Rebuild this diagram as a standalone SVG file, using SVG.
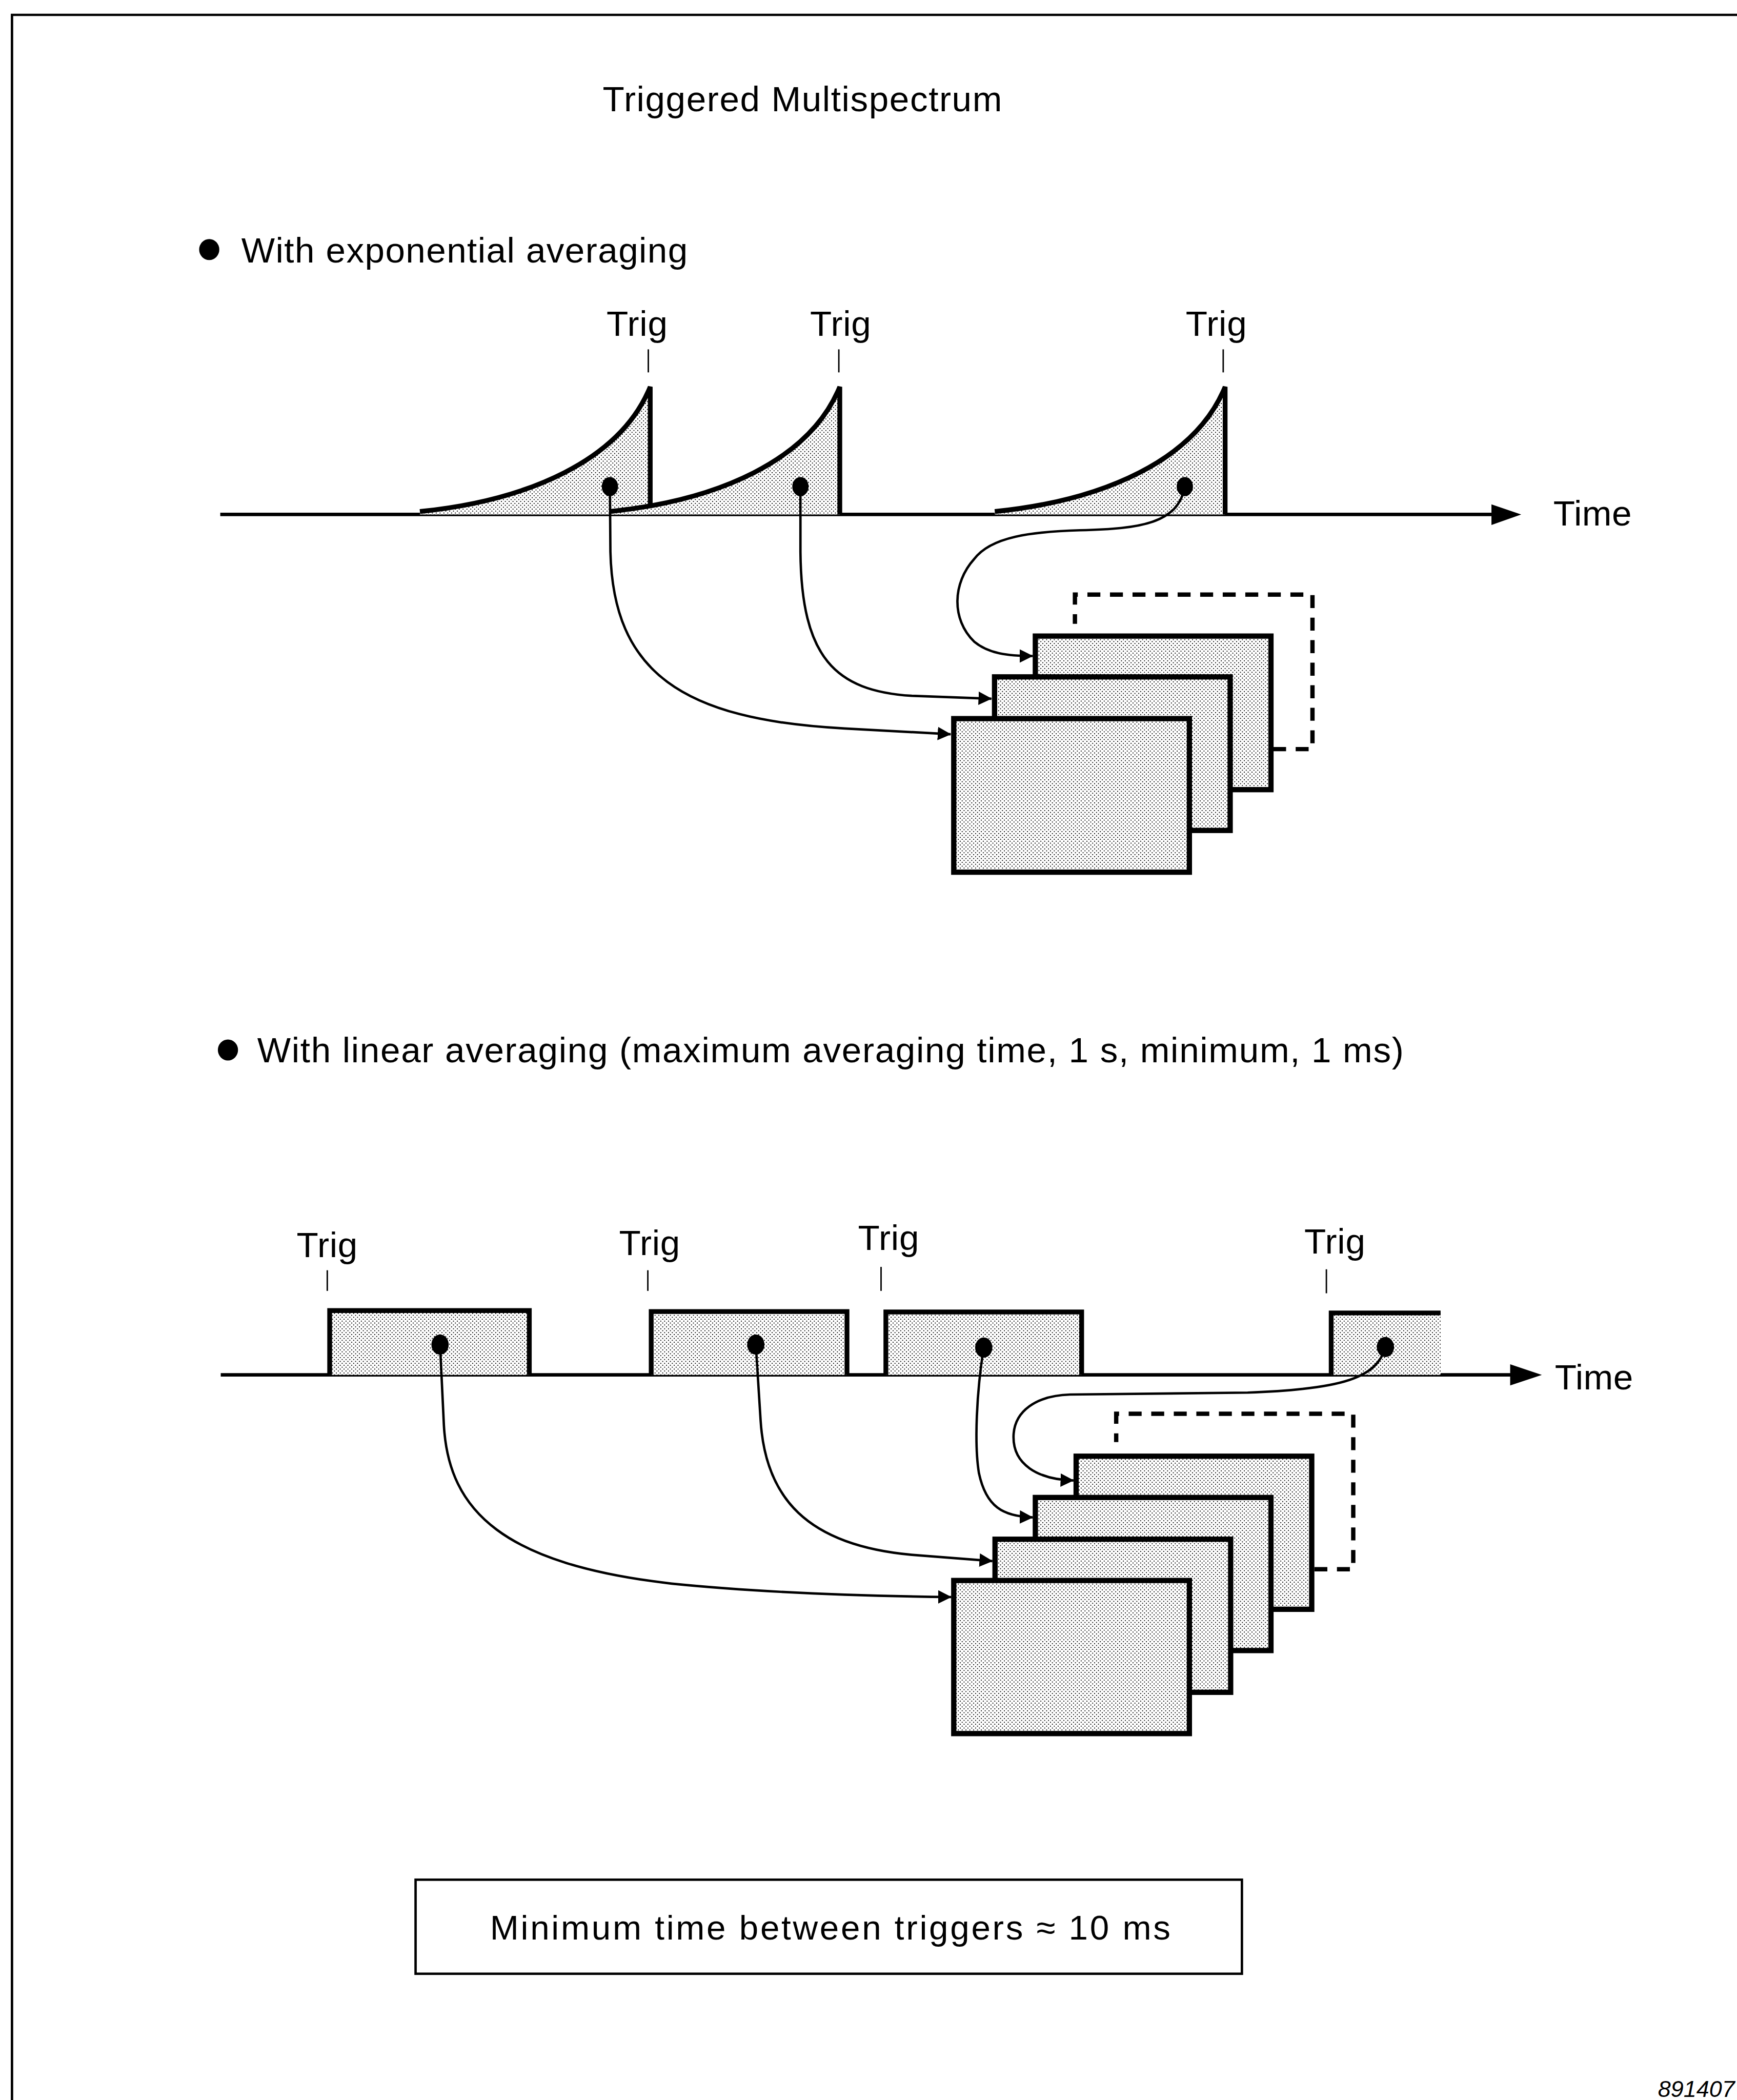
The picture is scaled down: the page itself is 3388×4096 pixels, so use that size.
<svg xmlns="http://www.w3.org/2000/svg" width="3388" height="4096" viewBox="0 0 3388 4096">
<defs>
<pattern id="stipple" width="8" height="8" patternUnits="userSpaceOnUse">
<rect width="8" height="8" fill="#fff"/>
<rect x="0" y="0" width="2" height="2" fill="#000"/>
<rect x="4" y="4" width="2" height="2" fill="#000"/>
</pattern>
<marker id="arr" markerUnits="userSpaceOnUse" markerWidth="28" markerHeight="28" viewBox="0 0 28 28" refX="27" refY="14" orient="auto"><path d="M0 0 L28 14 L0 28 Z" fill="#000"/></marker>
</defs>
<style>
.t{font-family:"Liberation Sans",Arial,sans-serif;font-size:74px;fill:#000}
.ln{fill:none;stroke:#000;stroke-width:5}
.box{fill:url(#stipple);stroke:#000;stroke-width:11}
.dash{fill:none;stroke:#000;stroke-width:9;stroke-dasharray:27 20}
.ax{fill:none;stroke:#000;stroke-width:7}
.tick{stroke:#000;stroke-width:3}
.pulse{fill:none;stroke:#000;stroke-width:10;stroke-linejoin:miter}
.fillp{fill:url(#stipple)}
.dot{fill:#000}
</style>
<rect width="3388" height="4096" fill="#fff"/>
<g transform="scale(0.936)">
<g id="page-border"><path d="M25 4376 V31 H3620" fill="none" stroke="#000" stroke-width="5"/></g>
<g id="title"><text class="t" x="1256" y="232" textLength="832">Triggered Multispectrum</text></g>

<g id="section-exponential">
<g id="bullet-exp"><ellipse class="dot" cx="436" cy="520" rx="21" ry="22"/><text class="t" x="503" y="547" textLength="930">With exponential averaging</text></g>
<g id="time-axis-top"><line class="ax" x1="459" y1="1072" x2="3115" y2="1072"/><path d="M3108 1051 L3170 1072 L3108 1094 Z" fill="#000"/><text class="t" x="3237" y="1095" textLength="163">Time</text></g>
<g id="trig-top-1"><text class="t" x="1264" y="700" textLength="127">Trig</text><line class="tick" x1="1351" y1="728" x2="1351" y2="776"/></g>
<g id="trig-top-2"><text class="t" x="1688" y="700" textLength="127">Trig</text><line class="tick" x1="1748" y1="728" x2="1748" y2="776"/></g>
<g id="trig-top-3"><text class="t" x="2471" y="700" textLength="127">Trig</text><line class="tick" x1="2549" y1="728" x2="2549" y2="776"/></g>
<g id="exp-pulse-1"><path class="fillp" d="M875 1068 C1100 1043, 1292 960, 1355 806 V1072 H875 Z"/><path class="pulse" d="M875 1066 C1100 1043, 1292 960, 1355 806 V1072"/></g>
<g id="exp-pulse-2"><path class="fillp" d="M1270 1068 C1495 1043, 1687 960, 1750 806 V1072 H1270 Z"/><path class="pulse" d="M1270 1066 C1495 1043, 1687 960, 1750 806 V1072"/></g>
<g id="exp-pulse-3"><path class="fillp" d="M2073 1068 C2298 1043, 2490 960, 2553 806 V1072 H2073 Z"/><path class="pulse" d="M2073 1066 C2298 1043, 2490 960, 2553 806 V1072"/></g>
<g id="stack-top">
<path class="dash" d="M2653 1561 H2735 V1239 H2240 V1300"/>
<g id="spec-top-3"><rect class="box" x="2157.5" y="1325.5" width="491" height="320"/></g>
<g id="spec-top-2"><rect class="box" x="2072.5" y="1410.5" width="491" height="320"/></g>
<g id="spec-top-1"><rect class="box" x="1987.5" y="1497.5" width="491" height="320"/></g>
</g>
</g>

<g id="section-linear">
<g id="bullet-lin"><ellipse class="dot" cx="475" cy="2188" rx="21" ry="22"/><text class="t" x="536" y="2214" textLength="2389">With linear averaging (maximum averaging time, 1 s, minimum, 1 ms)</text></g>
<g id="time-axis-bottom"><line class="ax" x1="460" y1="2865" x2="3152" y2="2865"/><path d="M3147 2843 L3213 2865 L3147 2887 Z" fill="#000"/><text class="t" x="3240" y="2895" textLength="163">Time</text></g>
<g id="trig-bot-1"><text class="t" x="618" y="2620" textLength="127">Trig</text><line class="tick" x1="682" y1="2647" x2="682" y2="2690"/></g>
<g id="trig-bot-2"><text class="t" x="1290" y="2615" textLength="127">Trig</text><line class="tick" x1="1350" y1="2647" x2="1350" y2="2690"/></g>
<g id="trig-bot-3"><text class="t" x="1788" y="2605" textLength="127">Trig</text><line class="tick" x1="1836" y1="2640" x2="1836" y2="2690"/></g>
<g id="trig-bot-4"><text class="t" x="2718" y="2612" textLength="127">Trig</text><line class="tick" x1="2764" y1="2645" x2="2764" y2="2695"/></g>
<g id="lin-pulse-1"><rect class="fillp" x="687" y="2730" width="416" height="135"/><path class="pulse" d="M687 2865 V2731 H1103 V2865"/></g>
<g id="lin-pulse-2"><rect class="fillp" x="1357" y="2732" width="408" height="133"/><path class="pulse" d="M1357 2865 V2733 H1765 V2865"/></g>
<g id="lin-pulse-3"><rect class="fillp" x="1846" y="2733" width="408" height="132"/><path class="pulse" d="M1846 2865 V2734 H2254 V2865"/></g>
<g id="lin-pulse-4"><rect class="fillp" x="2774" y="2735" width="228" height="130"/><path class="pulse" d="M2774 2865 V2736 H3002"/></g>
<g id="stack-bottom">
<path class="dash" d="M2739 3270 H2820 V2946 H2326 V3005"/>
<g id="spec-bot-4"><rect class="box" x="2242.5" y="3034.5" width="491" height="319"/></g>
<g id="spec-bot-3"><rect class="box" x="2157.5" y="3120.5" width="491" height="319"/></g>
<g id="spec-bot-2"><rect class="box" x="2073.5" y="3207.5" width="491" height="319"/></g>
<g id="spec-bot-1"><rect class="box" x="1987.5" y="3293.5" width="491" height="319"/></g>
</g>
</g>

<g id="connectors">
<ellipse class="dot" cx="1271" cy="1014" rx="17" ry="20"/>
<ellipse class="dot" cx="1668" cy="1014" rx="17" ry="20"/>
<ellipse class="dot" cx="2469" cy="1014" rx="17" ry="20"/>
<path class="ln" marker-end="url(#arr)" d="M1271 1014 L1272 1150 C1278 1400, 1420 1500, 1760 1518 L1981 1530"/>
<path class="ln" marker-end="url(#arr)" d="M1668 1014 L1668 1150 C1670 1370, 1740 1440, 1900 1450 L2066 1456"/>
<path class="ln" marker-end="url(#arr)" d="M2469 1014 C2455 1090, 2380 1102, 2250 1105 C2150 1108, 2065 1118, 2030 1165 C1985 1215, 1982 1290, 2030 1337 C2060 1362, 2100 1367, 2152 1367"/>
<ellipse class="dot" cx="917" cy="2802" rx="18" ry="21"/>
<ellipse class="dot" cx="1575" cy="2802" rx="18" ry="21"/>
<ellipse class="dot" cx="2050" cy="2808" rx="18" ry="21"/>
<ellipse class="dot" cx="2887" cy="2807" rx="18" ry="21"/>
<path class="ln" marker-end="url(#arr)" d="M917 2802 L925 2970 C935 3150, 1050 3260, 1400 3300 C1600 3320, 1800 3326, 1982 3328"/>
<path class="ln" marker-end="url(#arr)" d="M1575 2802 L1585 2960 C1595 3120, 1680 3220, 1900 3240 L2068 3253"/>
<path class="ln" marker-end="url(#arr)" d="M2050 2808 C2035 2900, 2030 3010, 2040 3070 C2055 3140, 2090 3160, 2152 3162"/>
<path class="ln" marker-end="url(#arr)" d="M2887 2807 C2870 2870, 2800 2895, 2600 2902 L2230 2906 C2160 2908, 2112 2940, 2112 2995 C2112 3050, 2160 3083, 2237 3085"/>
</g>

<g id="note-box"><rect x="866" y="3917" width="1722" height="196" fill="none" stroke="#000" stroke-width="5"/><text class="t" x="1021" y="4042" textLength="1418" style="font-size:72px">Minimum time between triggers ≈ 10 ms</text></g>
<g id="figure-number"><text x="3615" y="4370" text-anchor="end" font-family="Liberation Sans, Arial, sans-serif" font-size="48" font-style="italic">891407</text></g>
</g>
</svg>
